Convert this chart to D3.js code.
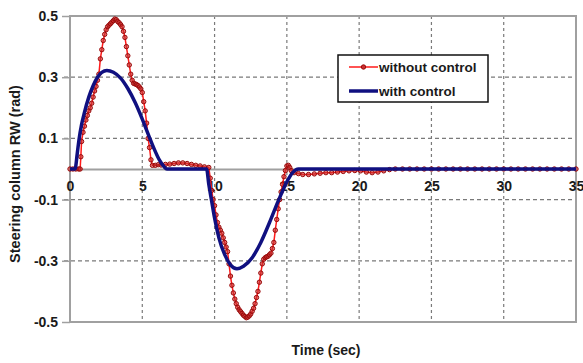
<!DOCTYPE html>
<html>
<head>
<meta charset="utf-8">
<script src="https://cdn.jsdelivr.net/npm/d3@7"></script>
<style>
  html, body { margin: 0; padding: 0; background: #fff; }
  svg { display: block; }
  text { font-family: Arial, "Liberation Sans", sans-serif; font-weight: bold; fill: #1a1a1a; }
</style>
</head>
<body>
<svg id="chart" width="583" height="363"></svg>
<script>
// Axis ticks
const xTicks = [0, 5, 10, 15, 20, 25, 30, 35];
const yTicks = [0.5, 0.3, 0.1, -0.1, -0.3, -0.5];

// Series names
const seriesNames = ["without control", "with control"];

// Steering column angle without control: [time (s), angle (rad)]
const withoutControl = [
  [0, 0], [0.2, 0], [0.4, 0], [0.6, 0], [0.7, 0], [0.75, 0.04], [0.8, 0.09], [0.9, 0.12],
  [1.0, 0.14], [1.1, 0.16], [1.2, 0.175], [1.3, 0.19], [1.4, 0.2], [1.5, 0.215], [1.6, 0.235],
  [1.7, 0.255], [1.8, 0.27], [1.9, 0.29], [2.0, 0.31], [2.1, 0.36], [2.2, 0.39], [2.3, 0.42],
  [2.4, 0.44], [2.5, 0.455], [2.6, 0.465], [2.7, 0.47], [2.8, 0.475], [2.9, 0.48], [3.0, 0.485],
  [3.1, 0.49], [3.2, 0.488], [3.3, 0.482], [3.4, 0.478], [3.5, 0.472], [3.6, 0.465], [3.7, 0.45],
  [3.8, 0.43], [3.9, 0.4], [4.0, 0.37], [4.1, 0.34], [4.2, 0.31], [4.3, 0.29], [4.4, 0.28],
  [4.5, 0.278], [4.6, 0.276], [4.7, 0.273], [4.8, 0.268], [4.9, 0.262], [5.0, 0.25], [5.1, 0.22],
  [5.2, 0.19], [5.3, 0.15], [5.4, 0.1], [5.5, 0.07], [5.6, 0.03], [5.7, 0.012], [5.9, 0.012],
  [6.1, 0.014], [6.3, 0.013], [6.6, 0.015], [6.9, 0.016], [7.2, 0.018], [7.5, 0.02], [7.8, 0.02],
  [8.1, 0.018], [8.4, 0.015], [8.7, 0.012], [9.0, 0.01], [9.3, 0.007], [9.6, 0.005],
  [9.7, -0.03], [9.8, -0.07], [9.9, -0.1], [10.0, -0.12], [10.1, -0.15], [10.2, -0.175],
  [10.3, -0.19], [10.4, -0.2], [10.5, -0.21], [10.6, -0.225], [10.7, -0.24], [10.8, -0.255],
  [10.9, -0.27], [11.0, -0.31], [11.1, -0.35], [11.2, -0.38], [11.3, -0.405], [11.4, -0.425],
  [11.5, -0.44], [11.6, -0.452], [11.7, -0.46], [11.8, -0.466], [11.9, -0.472], [12.0, -0.478],
  [12.1, -0.482], [12.2, -0.486], [12.3, -0.484], [12.4, -0.48], [12.5, -0.474], [12.6, -0.465],
  [12.7, -0.455], [12.8, -0.44], [12.9, -0.42], [13.0, -0.4], [13.1, -0.37], [13.2, -0.34],
  [13.3, -0.31], [13.4, -0.295], [13.5, -0.29], [13.6, -0.287], [13.7, -0.285], [13.8, -0.28],
  [13.9, -0.275], [14.0, -0.26], [14.1, -0.24], [14.2, -0.2], [14.3, -0.165], [14.4, -0.13],
  [14.5, -0.1], [14.6, -0.075], [14.7, -0.05], [14.8, -0.025], [14.9, -0.005], [15.0, 0.01],
  [15.1, 0.012], [15.2, 0.005], [15.3, -0.005], [15.5, -0.012], [15.8, -0.015], [16.1, -0.018],
  [16.5, -0.018], [16.9, -0.016], [17.3, -0.014], [17.7, -0.012], [18.1, -0.012], [18.5, -0.01],
  [18.9, -0.008], [19.3, -0.006], [19.7, -0.005], [20.1, -0.006], [20.5, -0.01], [20.9, -0.012],
  [21.3, -0.01], [21.7, -0.006], [22.1, -0.002], [22.5, 0], [23.0, 0], [23.5, 0], [24.0, 0],
  [24.5, 0], [25.0, 0], [25.5, 0], [26.0, 0], [26.5, 0], [27.0, 0], [27.5, 0], [28.0, 0],
  [28.5, 0], [29.0, 0], [29.5, 0], [30.0, 0], [30.5, 0], [31.0, 0], [31.5, 0], [32.0, 0],
  [32.5, 0], [33.0, 0], [33.5, 0], [34.0, 0], [34.5, 0], [35.0, 0]
];

// Steering column angle with control: [time (s), angle (rad)]
const withControl = [
  [0, 0], [0.35, 0], [0.5, 0.05], [0.62, 0.095], [0.8, 0.145], [1.0, 0.185], [1.3, 0.235],
  [1.6, 0.272], [1.9, 0.3], [2.2, 0.316], [2.55, 0.322], [3.0, 0.316], [3.5, 0.297],
  [4.0, 0.263], [4.5, 0.218], [5.0, 0.163], [5.4, 0.115], [5.8, 0.068], [6.2, 0.028],
  [6.5, 0.008], [6.7, 0],
  [9.45, 0], [9.6, -0.05], [9.8, -0.105], [10.0, -0.16], [10.3, -0.225], [10.7, -0.28],
  [11.1, -0.313], [11.55, -0.326], [12.0, -0.318], [12.6, -0.29], [13.2, -0.24],
  [13.8, -0.175], [14.4, -0.105], [15.0, -0.042], [15.4, -0.012], [15.8, 0], [35, 0]
];

const svg = d3.select("#chart");
const plot = { left: 70, right: 576, top: 16, bottom: 322 };

const x = d3.scaleLinear().domain([0, 35]).range([plot.left, plot.right]);
const y = d3.scaleLinear().domain([-0.5, 0.5]).range([plot.bottom, plot.top]);

const gridColor = "#7a7a7a";
const frameColor = "#a0a0a0";
const fontStack = "Arial, 'Liberation Sans', sans-serif";

// Dashed grid
const grid = svg.append("g");
grid.selectAll("line.v")
  .data(xTicks.filter(d => d > 0 && d < 35))
  .join("line")
  .attr("x1", d => x(d)).attr("x2", d => x(d))
  .attr("y1", plot.top).attr("y2", plot.bottom)
  .attr("stroke", gridColor).attr("stroke-width", 1.2)
  .attr("stroke-dasharray", "3,3");
grid.selectAll("line.h")
  .data(yTicks.filter(d => Math.abs(d) < 0.5))
  .join("line")
  .attr("x1", plot.left - 6).attr("x2", plot.right)
  .attr("y1", d => y(d)).attr("y2", d => y(d))
  .attr("stroke", gridColor).attr("stroke-width", 1.2)
  .attr("stroke-dasharray", "4,3");

// Frame
svg.append("rect")
  .attr("x", plot.left).attr("y", plot.top)
  .attr("width", plot.right - plot.left).attr("height", plot.bottom - plot.top)
  .attr("fill", "none").attr("stroke", frameColor).attr("stroke-width", 2);

// Plain hyphen for negative numbers
const fmtY = d => d3.format(".1f")(d).replace("\u2212", "-");

// Left axis with outer ticks
const yAxis = d3.axisLeft(y).tickValues(yTicks).tickSize(8).tickPadding(4).tickFormat(fmtY);
const gy = svg.append("g").attr("transform", `translate(${plot.left},0)`).call(yAxis);
gy.select(".domain").remove();
gy.selectAll(".tick line").attr("stroke", frameColor).attr("stroke-width", 1.5);
gy.selectAll(".tick text")
  .style("font-size", "14px").style("font-family", fontStack)
  .style("font-weight", "bold").attr("fill", "#1a1a1a");

// Horizontal axis along zero
const xAxis = d3.axisBottom(x).tickValues(xTicks).tickSize(0).tickPadding(12)
  .tickFormat(d3.format("d"));
const gx = svg.append("g").attr("transform", `translate(0,${y(0)})`).call(xAxis);
gx.select(".domain").attr("stroke", frameColor).attr("stroke-width", 2);
gx.selectAll(".tick text")
  .style("font-size", "14px").style("font-family", fontStack)
  .style("font-weight", "bold").attr("fill", "#1a1a1a");

// Series
const line = d3.line().x(d => x(d[0])).y(d => y(d[1]));
const smooth = d3.line().x(d => x(d[0])).y(d => y(d[1])).curve(d3.curveMonotoneX);

const redLine = "#ff1a1a";
const markerStroke = "#9a0a0a";
const markerFill = "#c83030";
const blue = "#101080";

svg.append("path").datum(withoutControl)
  .attr("d", line).attr("fill", "none")
  .attr("stroke", redLine).attr("stroke-width", 1.5);
svg.append("g").selectAll("circle")
  .data(withoutControl)
  .join("circle")
  .attr("cx", d => x(d[0])).attr("cy", d => y(d[1])).attr("r", 2.2)
  .attr("fill", markerFill).attr("fill-opacity", 0.6)
  .attr("stroke", markerStroke).attr("stroke-width", 1);

svg.append("path").datum(withControl)
  .attr("d", smooth).attr("fill", "none")
  .attr("stroke", blue).attr("stroke-width", 3.5)
  .attr("stroke-linejoin", "round");

// Legend
const lg = svg.append("g").attr("transform", "translate(338,55)");
lg.append("rect").attr("width", 150).attr("height", 47)
  .attr("fill", "#fff").attr("stroke", "#111").attr("stroke-width", 1.5);
lg.append("line").attr("x1", 11).attr("x2", 40).attr("y1", 12).attr("y2", 12)
  .attr("stroke", redLine).attr("stroke-width", 1.5);
lg.append("circle").attr("cx", 25.5).attr("cy", 12).attr("r", 2.2)
  .attr("fill", markerFill).attr("stroke", markerStroke).attr("stroke-width", 1);
lg.append("line").attr("x1", 11).attr("x2", 40).attr("y1", 36).attr("y2", 36)
  .attr("stroke", blue).attr("stroke-width", 3.5);
lg.selectAll("text.lbl")
  .data(seriesNames)
  .join("text")
  .attr("x", 41).attr("y", (d, i) => 12 + i * 24).attr("dy", "0.35em")
  .style("font-size", "13.5px").text(d => d);

// Axis titles
svg.append("text")
  .attr("x", 326).attr("y", 350).attr("dy", "0.35em")
  .attr("text-anchor", "middle").style("font-size", "14px")
  .text("Time (sec)");
svg.append("text")
  .attr("transform", "translate(15,174) rotate(-90)")
  .attr("dy", "0.35em").attr("text-anchor", "middle").style("font-size", "14.5px")
  .text("Steering column RW (rad)");
</script>
</body>
</html>
